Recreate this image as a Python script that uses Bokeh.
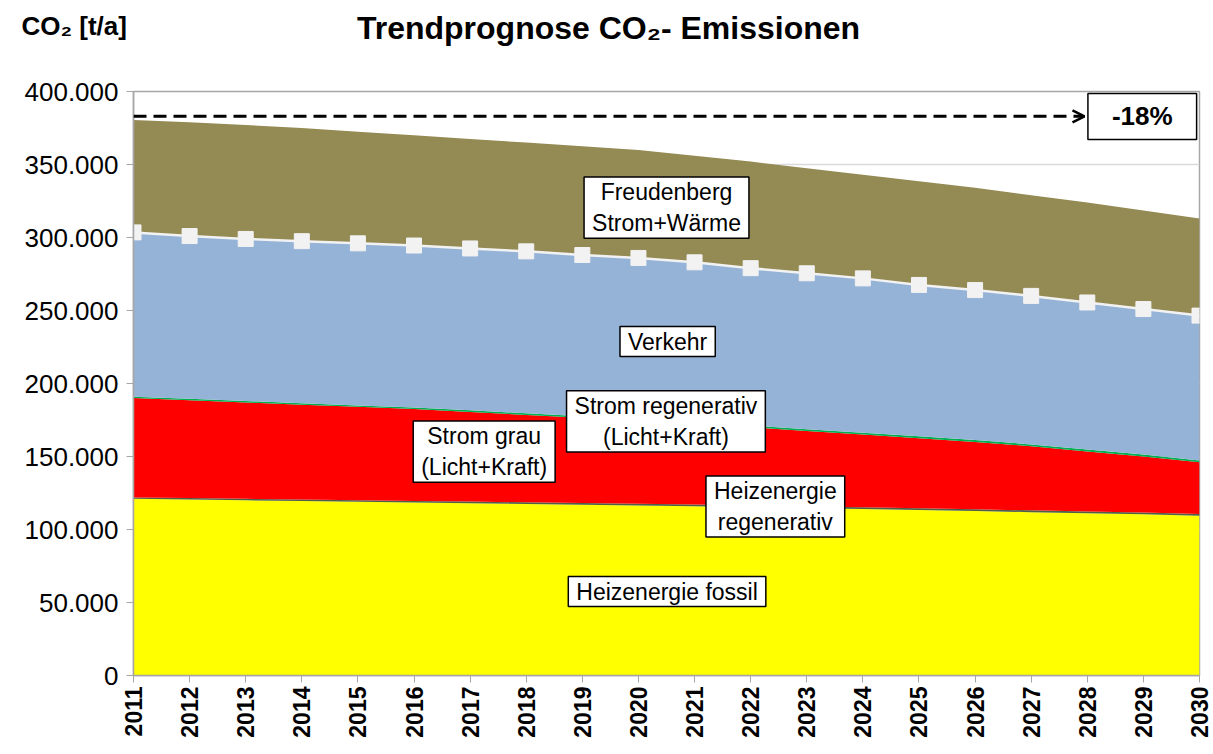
import math
from bokeh.plotting import figure
from bokeh.models import Label, Arrow, OpenHead, Range1d, FixedTicker, ColumnDataSource
from bokeh.core.properties import value
from bokeh.embed import file_html
from bokeh.resources import INLINE

years = list(range(2011, 2031))
heiz_fossil = [121000, 120500, 120000, 119500, 119000, 118500, 118000, 117500, 117000, 116500,
               116000, 115300, 114600, 114000, 113300, 112600, 111900, 111200, 110500, 109500]
heiz_reg = [1000, 1000, 1000, 1000, 1000, 1000, 1100, 1100, 1100, 1100,
            1100, 1200, 1200, 1200, 1200, 1200, 1200, 1200, 1200, 1200]
strom_grau = [68000, 67000, 66000, 65000, 64000, 63000, 61400, 59900, 58400, 56900,
              55400, 53500, 51700, 49800, 48000, 46200, 43900, 41100, 38300, 35300]
strom_reg = [1000, 1000, 1000, 1000, 1000, 1100, 1100, 1100, 1100, 1200,
             1200, 1200, 1200, 1200, 1300, 1300, 1300, 1300, 1300, 1300]
verkehr = [112500, 111500, 111000, 111000, 111000, 110900, 110900, 110900, 110400, 110300,
           109300, 107800, 106800, 105800, 103700, 102700, 101700, 100700, 99700, 99200]
freudenberg = [77000, 78000, 78000, 77500, 76500, 75500, 75000, 74500, 74500, 74000,
               73000, 73000, 72000, 71000, 71000, 70000, 69000, 68500, 67500, 66500]

series_names = ["heiz_fossil", "heiz_reg", "strom_grau", "strom_reg", "verkehr", "freudenberg"]
series_colors = ["#FFFF00", "#4F5F45", "#FF0000", "#00B050", "#95B3D7", "#948A54"]

y_ticks = [0, 50000, 100000, 150000, 200000, 250000, 300000, 350000, 400000]
y_tick_labels = ["0", "50.000", "100.000", "150.000", "200.000", "250.000", "300.000", "350.000", "400.000"]

chart_title = "Trendprognose CO₂- Emissionen"
y_unit = "CO₂ [t/a]"

FONT = "Liberation Sans"

source = ColumnDataSource(dict(
    year=years, heiz_fossil=heiz_fossil, heiz_reg=heiz_reg, strom_grau=strom_grau,
    strom_reg=strom_reg, verkehr=verkehr, freudenberg=freudenberg,
))
verkehr_top = [a + b + c + d + e for a, b, c, d, e in zip(heiz_fossil, heiz_reg, strom_grau, strom_reg, verkehr)]
source.data["verkehr_top"] = verkehr_top

# ---- header with title texts (separate root, so no frame alignment) ----
HEAD_H = 60
head = figure(width=1213, height=HEAD_H, output_backend="svg", toolbar_location=None,
              x_range=Range1d(0, 1213), y_range=Range1d(0, HEAD_H),
              min_border=0, min_border_left=0, min_border_right=0, min_border_top=0, min_border_bottom=0)
head.axis.visible = False
head.grid.visible = False
head.outline_line_color = None
head.text(x=[608], y=[HEAD_H - 27], text=[chart_title], text_font=value(FONT), text_font_style="bold",
          text_font_size="32px", text_align="center", text_baseline="middle", text_color="black")
head.text(x=[21], y=[HEAD_H - 25], text=[y_unit], text_font=value(FONT), text_font_style="bold",
          text_font_size="26px", text_align="left", text_baseline="middle", text_color="black")

# ---- main chart ----
p = figure(width=1213, height=754 - HEAD_H, output_backend="svg", toolbar_location=None,
           x_range=Range1d(2011, 2030), y_range=Range1d(0, 400000),
           min_border_left=133, min_border_right=14, min_border_top=91 - HEAD_H, min_border_bottom=79)

p.varea_stack(stackers=series_names, x="year", color=series_colors, source=source)
p.line(x="year", y="verkehr_top", source=source, line_color="#F2F2F2", line_width=2.5)
p.scatter(x="year", y="verkehr_top", source=source, marker="square", size=15,
          fill_color="#F2F2F2", line_color="#F2F2F2")

p.background_fill_color = "white"
p.outline_line_color = "#A6A6A6"
p.outline_line_width = 1.5
p.xgrid.grid_line_color = None
p.ygrid.grid_line_color = "#D9D9D9"
p.ygrid.grid_line_width = 1.5
p.ygrid.ticker = FixedTicker(ticks=y_ticks)

p.yaxis.ticker = FixedTicker(ticks=y_ticks)
p.yaxis.major_label_overrides = {t: l for t, l in zip(y_ticks, y_tick_labels)}
p.yaxis.major_label_text_font = FONT
p.yaxis.major_label_text_font_size = "26px"
p.yaxis.major_label_text_color = "black"
p.yaxis.axis_line_color = "#A6A6A6"
p.yaxis.axis_line_width = 1.5
p.yaxis.major_tick_line_color = "#A6A6A6"
p.yaxis.major_tick_out = 7
p.yaxis.major_tick_in = 0
p.yaxis.minor_tick_line_color = None
p.yaxis.major_label_standoff = 8

p.xaxis.ticker = FixedTicker(ticks=years)
p.xaxis.major_label_orientation = math.pi / 2
p.xaxis.major_label_text_font = FONT
p.xaxis.major_label_text_font_size = "23px"
p.xaxis.major_label_text_font_style = "bold"
p.xaxis.major_label_text_color = "black"
p.xaxis.axis_line_color = "#A6A6A6"
p.xaxis.axis_line_width = 1.5
p.xaxis.major_tick_line_color = "#A6A6A6"
p.xaxis.major_tick_out = 7
p.xaxis.major_tick_in = 0
p.xaxis.minor_tick_line_color = None
p.xaxis.major_label_standoff = 4

# dashed arrow
p.add_layout(Arrow(x_start=2011, y_start=383000, x_end=2027.95, y_end=383000,
                   line_color="black", line_width=3, line_dash="13 7",
                   end=OpenHead(size=12, line_color="black", line_width=2.5)))

def box_label(x, y, text, bold=False, size="23px", pad=None):
    if pad is None:
        pad = dict(left=8, right=8, top=2, bottom=2)
    p.add_layout(Label(x=x, y=y, text=text, text_font=FONT, text_font_size=size,
                       text_font_style="bold" if bold else "normal",
                       text_align="center", text_baseline="middle", text_color="black",
                       background_fill_color="white", border_line_color="black",
                       border_line_width=1.5, padding=pad))

box_label(2028.98, 382900, "-18%", bold=True, size="26px", pad=dict(left=24, right=24, top=8, bottom=8))
box_label(2020.5, 320500, "Freudenberg\nStrom+Wärme")
box_label(2020.52, 228750, "Verkehr")
box_label(2020.49, 174000, "Strom regenerativ\n(Licht+Kraft)")
box_label(2017.25, 153400, "Strom grau\n(Licht+Kraft)")
box_label(2022.44, 115750, "Heizenergie\nregenerativ")
box_label(2020.51, 57500, "Heizenergie fossil")

open("out.html", "w").write(file_html([head, p], INLINE))
